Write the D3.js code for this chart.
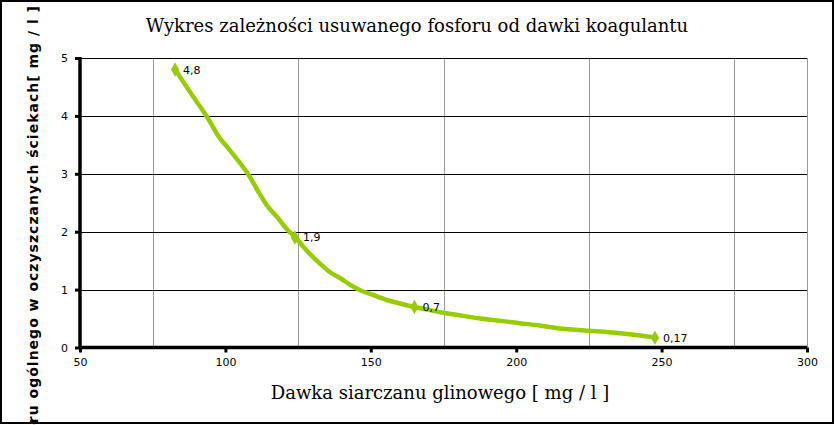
<!DOCTYPE html>
<html><head><meta charset="utf-8">
<script src="https://cdn.jsdelivr.net/npm/d3@7/dist/d3.min.js"></script>
<style>body{margin:0;background:#fff}svg{display:block}</style>
</head><body>
<svg id="c" width="836" height="425"></svg>
<script>
const title = "Wykres zależności usuwanego fosforu od dawki koagulantu";
const xTitle = "Dawka siarczanu glinowego [ mg / l ]";
const yTitle = "Zawartość fosforu ogólnego w oczyszczanych ściekach[ mg / l ]";
const xTicks = [50, 100, 150, 200, 250, 300];
const yTicks = [0, 1, 2, 3, 4, 5];
const xMinorGrid = [75, 125, 175, 225, 275, 300];
// dense curve
const curveX = [82.7,88,93.6,98,101,104.5,108,111,114.2,118,121,123.9,128,132.5,136,139.4,143,146.3,150,155.5,160,165,170,175,180,187.6,195,201.3,208,215,225,235.7,242,247.7];
const curveY = [4.80,4.40,3.99,3.62,3.44,3.22,2.98,2.72,2.46,2.24,2.05,1.91,1.67,1.45,1.30,1.20,1.08,0.99,0.92,0.82,0.76,0.70,0.65,0.60,0.56,0.50,0.46,0.42,0.38,0.33,0.29,0.245,0.21,0.17];
// labelled measurement points
const ptX = [82.7, 123.9, 165, 247.7];
const ptY = [4.8, 1.9, 0.7, 0.17];
const ptLabel = ["4,8", "1,9", "0,7", "0,17"];

const svg = d3.select("#c");
const L = 80, R = 807, T = 58, B = 347.5;
const x = d3.scaleLinear().domain([50, 300]).range([L, R]);
const y = d3.scaleLinear().domain([0, 5]).range([B, T]);
const green = "#99cc00";

svg.append("rect").attr("x", 1).attr("y", 1).attr("width", 832).attr("height", 422)
  .attr("fill", "#fff").attr("stroke", "#000").attr("stroke-width", 2);

// vertical gray grid
svg.append("g").selectAll("line").data(xMinorGrid).join("line")
  .attr("x1", d => Math.round(x(d)) + 0.5).attr("x2", d => Math.round(x(d)) + 0.5)
  .attr("y1", T).attr("y2", B)
  .attr("stroke", "#999").attr("stroke-width", 1);
// horizontal black grid
svg.append("g").selectAll("line").data(yTicks.filter(d => d > 0)).join("line")
  .attr("x1", L).attr("x2", R)
  .attr("y1", d => Math.round(y(d)) + 0.5).attr("y2", d => Math.round(y(d)) + 0.5)
  .attr("stroke", "#000").attr("stroke-width", 1);

// axes
const xAxis = svg.append("g").attr("transform", `translate(0,${B})`)
  .call(d3.axisBottom(x).tickValues(xTicks).tickSize(5).tickPadding(6).tickFormat(d3.format("d")));
const yAxis = svg.append("g").attr("transform", `translate(${L},0)`)
  .call(d3.axisLeft(y).tickValues(yTicks).tickSize(5).tickPadding(7).tickFormat(d3.format("d")));
[xAxis, yAxis].forEach(a => {
  a.select(".domain").attr("stroke", "#000").attr("stroke-width", 3.5);
  a.selectAll(".tick line").attr("stroke", "#000").attr("stroke-width", 3);
  a.selectAll(".tick text").attr("fill", "#000").style("font-family", "DejaVu Sans").style("font-size", "11px");
});
yAxis.select(".domain").attr("d", `M0,${T - 1}V${B}`);
xAxis.select(".domain").attr("d", `M${L},0H${R}`);

// line
const pts = curveX.map((d, i) => [d, curveY[i]]);
svg.append("path").datum(pts)
  .attr("d", d3.line().x(d => x(d[0])).y(d => y(d[1])).curve(d3.curveCatmullRom))
  .attr("fill", "none").attr("stroke", green).attr("stroke-width", 4.5)
  .attr("stroke-linejoin", "round");

// markers
const mk = ptX.map((d, i) => ({x: d, y: ptY[i], l: ptLabel[i]}));
svg.append("g").selectAll("path").data(mk).join("path")
  .attr("transform", d => `translate(${x(d.x)},${y(d.y)})`)
  .attr("d", d3.symbol(d3.symbolDiamond, 60)())
  .attr("fill", green);
svg.append("g").selectAll("text").data(mk).join("text")
  .attr("x", d => x(d.x) + 8).attr("y", d => y(d.y) + 4)
  .text(d => d.l).attr("fill", "#000")
  .style("font-family", "DejaVu Sans").style("font-size", "11px");

// titles
svg.append("text").attr("x", 417).attr("y", 32).attr("text-anchor", "middle")
  .style("font-family", "DejaVu Serif").style("font-size", "18px").text(title);
svg.append("text").attr("x", 440).attr("y", 399).attr("text-anchor", "middle")
  .style("font-family", "DejaVu Serif").style("font-size", "18px").text(xTitle);
svg.append("text").attr("transform", "translate(38,5) rotate(-90)").attr("text-anchor", "end")
  .style("font-family", "DejaVu Sans").style("font-size", "14px").style("font-weight", "bold")
  .style("letter-spacing", "1px").text(yTitle);
</script>
</body></html>
